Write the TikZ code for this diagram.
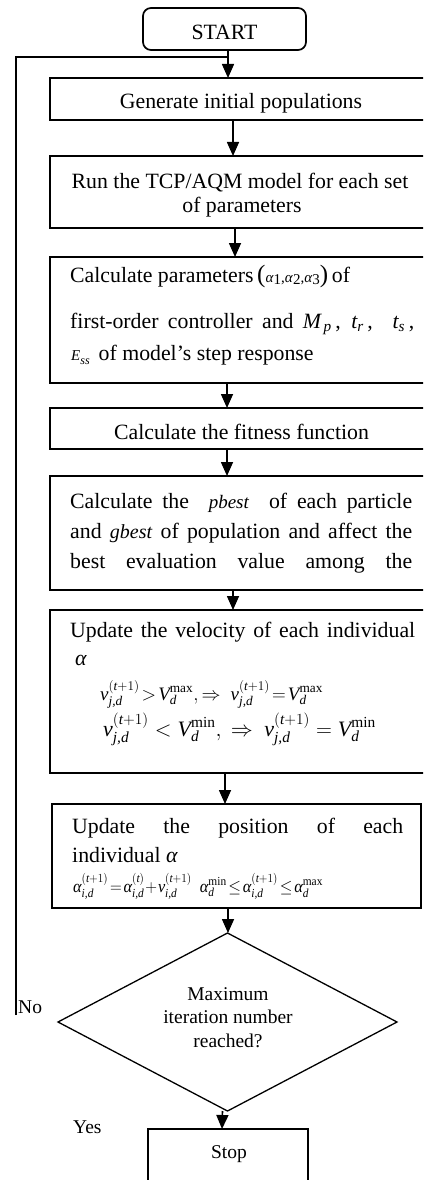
\RequirePackage{fix-cm}
\documentclass[tikz,border=0pt]{standalone}
\usepackage{amsmath}
\usepackage{graphicx}
\usepackage{fontspec}
\setmainfont{Liberation Serif}
\usetikzlibrary{arrows.meta,shapes.geometric}
\newcommand{\ti}[1]{\textit{#1}}
\begin{document}
\begin{tikzpicture}[x=1pt,y=-1pt,
  boxst/.style={draw,line width=1.7pt,outer sep=0pt,inner sep=0pt,anchor=north west},
  arrst/.style={line width=1.6pt,-{Triangle[width=12pt,length=14pt]}},
  linest/.style={line width=1.6pt},
  tleft/.style={anchor=base west,inner sep=0pt,font=\fontsize{21.8}{26}\selectfont},
  tcent/.style={anchor=base,inner sep=0pt,font=\fontsize{21.8}{26}\selectfont},
  small/.style={font=\fontsize{19.5}{23}\selectfont}
]
\useasboundingbox (0,0) rectangle (423,1180);
\fill[white] (0,0) rectangle (423,1180);
\clip (0,0) rectangle (423,1180);

% boxes
\node[boxst, rounded corners=8pt, minimum width=163pt, minimum height=42pt] (start) at (143,8) {};
\node[boxst, minimum width=382pt, minimum height=42pt] (gen) at (50,78) {};
\node[boxst, minimum width=382pt, minimum height=72pt] (run) at (50,156) {};
\node[boxst, minimum width=382pt, minimum height=126pt] (calc) at (50,257) {};
\node[boxst, minimum width=382pt, minimum height=41pt] (fit) at (50,408) {};
\node[boxst, minimum width=382pt, minimum height=114pt] (best) at (50,476) {};
\node[boxst, minimum width=382pt, minimum height=163pt] (vel) at (50,610) {};
\node[boxst, minimum width=369pt, minimum height=104pt] (pos) at (52,804) {};
\node[draw, diamond, line width=1.3pt, inner sep=0pt, outer sep=0pt, minimum width=339pt, minimum height=178pt] (dec) at (227.5,1022) {};
\node[boxst, minimum width=160pt, minimum height=80pt] (stop) at (148,1129) {};

% texts
\node[tcent] (tstart) at (224.5,40) {START};
\node[tcent] (tgen) at (241,109) {Generate initial populations};
\node[tcent] (trun1) at (240,188) {Run the TCP/AQM model for each set};
\node[tcent] (trun2) at (242,212) {of parameters};
\node[tleft] (tcalc1) at (70,282) {Calculate parameters\,{\fontsize{25}{25}\selectfont(}{\fontsize{15}{15}\selectfont\ti{α}\raisebox{-2pt}{1},\ti{α}\raisebox{-2pt}{2},\ti{α}\raisebox{-2pt}{3}}{\fontsize{25}{25}\selectfont)}\,of};
\node[tleft] (tcalc2) at (70,328) {\makebox[344pt][s]{first-order controller and $\ti{M}_{\,\ti{p}}$\,, $\ti{t}_{\ti{r}}$\,, \ $\ti{t}_{\ti{s}}$\,,}};
\node[tleft] (tcalc3) at (71,360) {{\fontsize{15}{15}\selectfont\ti{E}\raisebox{-4pt}{\fontsize{12}{12}\selectfont\ti{ss}}}\hspace{9pt}of model’s step response};
\node[tcent] (tfit) at (241.5,439) {Calculate the fitness function};
\node[tleft] (tbest1) at (70,508) {\makebox[342pt][s]{Calculate the \ {\fontsize{19}{19}\selectfont\ti{pbest}} \ of each particle}};
\node[tleft] (tbest2) at (70,538) {\makebox[342pt][s]{and {\fontsize{20}{20}\selectfont\ti{gbest}} of population and affect the}};
\node[tleft] (tbest3) at (70,568) {\makebox[342pt][s]{best evaluation value among the}};
\node[tleft] (tvel1) at (70,637) {\makebox[345pt][s]{Update the velocity of each individual}};
\node[tleft] (tvel2) at (75,665) {\ti{α}};
\node[tleft, font=\fontsize{19}{22}\selectfont] (tvel3) at (100,700) {$\ti{v}^{(\ti{t}+1)}_{\ti{j,d}}\!>\!\ti{V}^{\text{max}}_{\ti{d}},\Rightarrow\ \ti{v}^{(\ti{t}+1)}_{\ti{j,d}}\!=\!\ti{V}^{\text{max}}_{\ti{d}}$};
\node[tleft, font=\fontsize{22}{25}\selectfont] (tvel4) at (103,736) {$\ti{v}^{(\ti{t}+1)}_{\ti{j,d}}<\ti{V}^{\text{min}}_{\ti{d}},\ \Rightarrow\ \ti{v}^{(\ti{t}+1)}_{\ti{j,d}}=\ti{V}^{\text{min}}_{\ti{d}}$};
\node[tleft] (tpos1) at (72,833) {\makebox[331pt][s]{Update the position of each}};
\node[tleft] (tpos2) at (72,862) {individual \ti{α}};
\node[tleft, font=\fontsize{17.5}{20}\selectfont] (tpos3) at (73,892) {\scalebox{0.93}[1]{$\ti{α}^{(\ti{t}+1)}_{\ti{i,d}}\!=\!\ti{α}^{(\ti{t})}_{\ti{i,d}}\!+\!\ti{v}^{(\ti{t}+1)}_{\ti{i,d}}\ \ \ti{α}^{\text{min}}_{\ti{d}}\!\le\!\ti{α}^{(\ti{t}+1)}_{\ti{i,d}}\!\le\!\ti{α}^{\text{max}}_{\ti{d}}$}};
\node[tcent, small] (tdec1) at (228,1000) {Maximum};
\node[tcent, small] (tdec2) at (228,1023) {iteration number};
\node[tcent, small] (tdec3) at (228,1047) {reached?};
\node[tcent, small] (tstop) at (229,1158) {Stop};
\node[tleft, small] (tno) at (18,1013) {No};
\node[tleft, small] (tyes) at (73,1133) {Yes};

% connectors
\coordinate (join) at (228,57);
\coordinate (fb) at (16,1015);
\draw[arrst] ([xshift=3.5pt]start.south) -- ([xshift=-13pt]gen.north);
\draw[linest] (fb) |- (join);
\draw[arrst] ([xshift=-8pt]gen.south) -- ([xshift=-8pt]run.north);
\draw[arrst] ([xshift=-6pt]run.south) -- ([xshift=-6pt]calc.north);
\draw[arrst] ([xshift=-14pt]calc.south) -- ([xshift=-14pt]fit.north);
\draw[arrst] ([xshift=-14pt]fit.south) -- ([xshift=-14pt]best.north);
\draw[arrst] ([xshift=-8pt]best.south) -- ([xshift=-8pt]vel.north);
\draw[arrst] ([xshift=-16pt]vel.south) -- ([xshift=-11.5pt]pos.north);
\draw[arrst] ([xshift=-8.5pt]pos.south) -- ([xshift=0.5pt]dec.north);
\draw[arrst] ([xshift=-5pt]dec.south) -- ([xshift=-6pt]stop.north);
\end{tikzpicture}
\end{document}
